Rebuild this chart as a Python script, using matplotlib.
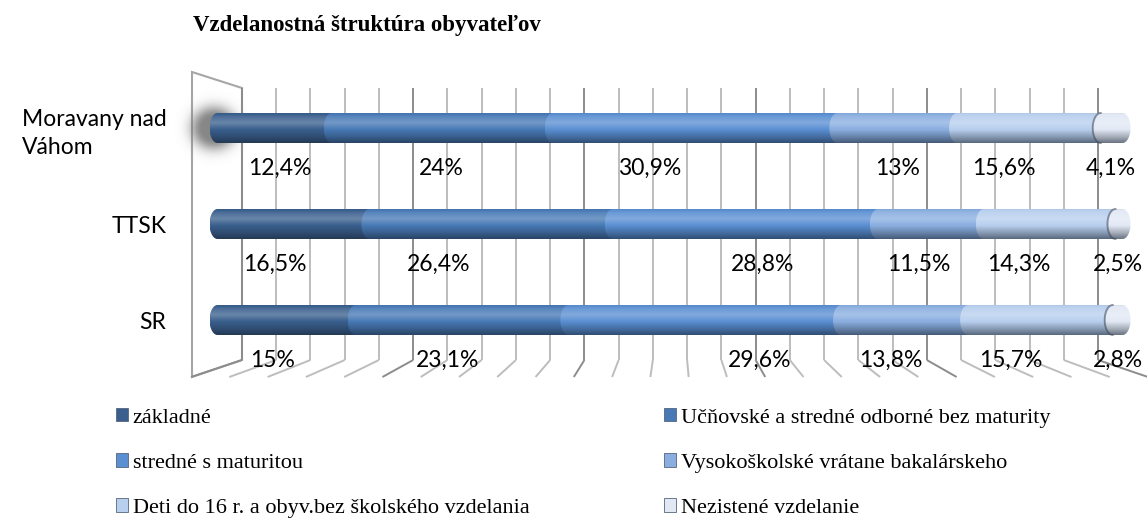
import numpy as np
import matplotlib
matplotlib.use('Agg')
import matplotlib.pyplot as plt
from matplotlib.patches import Polygon, Patch
from matplotlib.colors import to_rgb

# ---------------- data ----------------
categories = ['Moravany nad\nVáhom', 'TTSK', 'SR']
series_names = ['základné',
                'Učňovské a stredné odborné bez maturity',
                'stredné s maturitou',
                'Vysokoškolské vrátane bakalárskeho',
                'Deti do 16 r. a obyv.bez školského vzdelania',
                'Nezistené vzdelanie']
zakladne = [12.4, 16.5, 15.0]
ucnovske = [24.0, 26.4, 23.1]
stredne_maturita = [30.9, 28.8, 29.6]
vysokoskolske = [13.0, 11.5, 13.8]
deti = [15.6, 14.3, 15.7]
nezistene = [4.1, 2.5, 2.8]
series_values = [zakladne, ucnovske, stredne_maturita, vysokoskolske, deti, nezistene]
title = 'Vzdelanostná štruktúra obyvateľov'

# small horizontal nudges (pixels) of the data labels, as placed in the original
label_nudge_px = [[13, 7, -37, 8, -17, -1],
                  [-11, -44, 25, -4, -23, -1],
                  [-6, -6, 63, -6, -22, 0]]

colors = ['#3a5f8e', '#4779b5', '#5a8fd2', '#8aaee0', '#b8cfee', '#e2e9f5']

W, H = 1147, 520
fig = plt.figure(figsize=(W / 100, H / 100), dpi=100)
fig.patch.set_facecolor('white')


def fr(x0, y0, x1, y1):
    return [x0 / W, 1 - y1 / H, (x1 - x0) / W, (y1 - y0) / H]


def fmt(v):
    return ('%g' % v).replace('.', ',') + '%'


def shade_column(base, n=64):
    base = np.array(to_rgb(base))
    white = np.ones(3)
    dark = np.array(to_rgb('#141e2c'))
    t = np.linspace(0, 1, n)
    knots_t = [0.0, 0.12, 0.32, 0.55, 0.8, 1.0]
    knots_m = [-0.05, 0.10, 0.24, 0.0, -0.30, -0.58]
    m = np.interp(t, knots_t, knots_m)
    out = np.empty((n, 1, 3))
    for i, mv in enumerate(m):
        if mv >= 0:
            out[i, 0] = base * (1 - mv) + white * mv
        else:
            out[i, 0] = base * (1 + mv) + dark * (-mv)
    return np.clip(out, 0, 1)


# ---------------- background: wall, floor, glow ----------------
bg = fig.add_axes([0, 0, 1, 1], zorder=0)
bg.axis('off')

gx0, gx1, gy0, gy1 = 242, 1098, 88, 360
floor_front = 377
vp = 674.0
k_persp = 1.118
wall = Polygon([(192, 72), (gx0, gy0), (gx0, gy1), (192, floor_front)], closed=True,
               facecolor='white', edgecolor='#a6a6a6', lw=1.5, zorder=1)
bg.add_patch(wall)
ticks_grid = np.arange(0, 101, 4)
for tv in ticks_grid:
    xb = gx0 + (gx1 - gx0) * tv / 100.0
    xf = vp + k_persp * (xb - vp)
    col = '#8c8c8c' if tv % 20 == 0 else '#bdbdbd'
    bg.plot([xb, xf], [gy1, floor_front], color=col, lw=1.4, solid_capstyle='butt', zorder=2)

# soft shadow around the first bar's left end
gc_x, gc_y = 214, 128
yy, xx = np.mgrid[-45:46, -45:46]
r = np.sqrt((xx * 0.95) ** 2 + yy ** 2)
alpha = np.exp(-((r - 11).clip(0)) ** 2 / (2 * 8.5 ** 2)) * 0.85
glow = np.zeros((91, 91, 4))
glow[..., :3] = 0.45
glow[..., 3] = alpha
bg.imshow(glow, extent=(gc_x - 45, gc_x + 45, gc_y + 45, gc_y - 45),
          interpolation='bilinear', zorder=3)
bg.set_xlim(0, W)
bg.set_ylim(H, 0)

# ---------------- gridlines (back wall) ----------------
mpx = 6
axg = fig.add_axes(fr(gx0 - mpx, gy0, gx1 + mpx, gy1), zorder=1)
ppp = (gx1 - gx0) / 100.0
axg.set_xlim(-mpx / ppp, 100 + mpx / ppp)
axg.set_ylim(0, 1)
axg.patch.set_visible(False)
for s in axg.spines.values():
    s.set_visible(False)
axg.set_xticks(np.arange(0, 101, 20))
axg.set_xticks(ticks_grid, minor=True)
axg.set_yticks([])
axg.tick_params(which='both', length=0, labelbottom=False)
axg.grid(which='minor', axis='x', color='#bdbdbd', lw=1.4)
axg.grid(which='major', axis='x', color='#8c8c8c', lw=1.4)

# ---------------- bars ----------------
bx0, bx1 = 209.5, 1130.5
by0, by1 = 80, 368
ax = fig.add_axes(fr(bx0, by0, bx1, by1), zorder=2)
ax.patch.set_visible(False)
for s in ax.spines.values():
    s.set_visible(False)
px_per_x = (bx1 - bx0) / 100.0
px_per_y = (by1 - by0) / 3.0
rx = 8.0 / px_per_x
hh = 15.0 / px_per_y

n_series = len(series_values)
for i in range(len(categories)):
    cum = 0.0
    for k in range(n_series):
        v = series_values[k][i]
        s, e = cum, cum + v
        last = (k == n_series - 1)
        th = np.linspace(np.pi / 2, 3 * np.pi / 2, 50)
        left = np.column_stack([s + rx + rx * np.cos(th), i + hh * np.sin(th)])
        if last:
            th2 = np.linspace(-np.pi / 2, np.pi / 2, 50)
            right = np.column_stack([e - rx + rx * np.cos(th2), i + hh * np.sin(th2)])
            xr = e
        else:
            right = np.array([[e + rx, i - hh], [e + rx, i + hh]])
            xr = e + rx
        pts = np.vstack([left, right])
        poly = Polygon(pts, closed=True, transform=ax.transData)
        img = shade_column(colors[k])
        im = ax.imshow(img, extent=(s, xr, i + hh, i - hh), origin='upper',
                       aspect='auto', interpolation='bilinear', zorder=3 + k)
        im.set_clip_path(poly)
        if last:
            ax.plot(left[:, 0], left[:, 1], color='#3c4658', alpha=0.55, lw=1.4,
                    zorder=3 + k + 0.5)
        xlab = (s + e) / 2 + label_nudge_px[i][k] / px_per_x
        ax.text(xlab, i + 0.42, fmt(v), ha='center', va='center',
                fontsize=16.5, family='Lato', color='black', zorder=20)
        cum = e

ax.set_xlim(0, 100)
ax.set_ylim(2.5, -0.5)
ax.set_xticks([])
ax.set_yticks(range(len(categories)))
ax.set_yticklabels(categories, fontsize=16.5, family='Lato', multialignment='left',
                   linespacing=1.4)
ax.tick_params(axis='y', length=0, pad=31)

# ---------------- title ----------------
fig.text(193 / W, 1 - 25 / H, title, ha='left', va='center', fontsize=16.5,
         family='Liberation Serif', fontweight='bold')

# ---------------- legend ----------------
handles = [Patch(facecolor=colors[k], edgecolor='#55657d', lw=0.6) for k in range(n_series)]
leg_kw = dict(frameon=False, loc='center left', handlelength=0.55,
              handleheight=0.55, handletextpad=0.2, labelspacing=1.15, borderpad=0,
              borderaxespad=0, prop={'family': 'Liberation Serif', 'size': 16})
fig.legend([handles[k] for k in (0, 2, 4)], [series_names[k] for k in (0, 2, 4)],
           bbox_to_anchor=(116 / W, 1 - 463 / H), **leg_kw)
fig.legend([handles[k] for k in (1, 3, 5)], [series_names[k] for k in (1, 3, 5)],
           bbox_to_anchor=(664 / W, 1 - 463 / H), **leg_kw)

fig.savefig('out.png', dpi=100, facecolor='white')
